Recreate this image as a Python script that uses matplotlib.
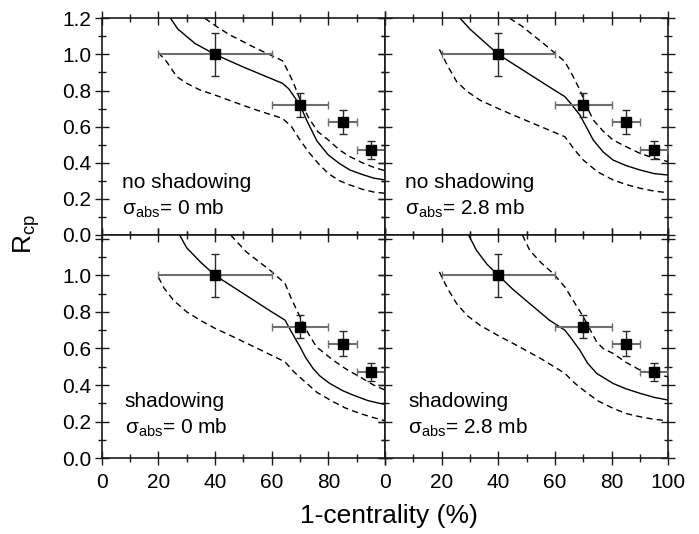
import matplotlib
matplotlib.use("Agg")
import matplotlib.pyplot as plt
from matplotlib.ticker import MultipleLocator, FixedLocator, FixedFormatter

plt.rcParams['font.family'] = ['Liberation Sans', 'DejaVu Sans']
plt.rcParams['mathtext.fontset'] = 'custom'
plt.rcParams['mathtext.rm'] = 'Liberation Sans'
plt.rcParams['mathtext.it'] = 'Liberation Sans:italic'
plt.rcParams['mathtext.bf'] = 'Liberation Sans:bold'

# ---------------- data ----------------
data_x = [40, 70, 85, 95]
data_y = [1.0, 0.72, 0.625, 0.47]
data_xerr = [20, 10, 5, 5]
data_yerr = [0.117, 0.065, 0.068, 0.05]

# panel 1: no shadowing, sigma_abs = 0 mb
p1_solid_x = [24.3, 26.9, 33, 40, 50, 63.8, 66, 68, 70, 72.3, 76, 80, 84, 87.6, 92, 96, 100]
p1_solid_y = [1.2, 1.14, 1.06, 1.0, 0.93, 0.84, 0.81, 0.765, 0.72, 0.637, 0.52, 0.443, 0.395, 0.36, 0.335, 0.315, 0.305]
p1_up_x = [36.4, 40, 45, 50, 55, 60.5, 63.8, 66, 68, 70, 73, 76.3, 80, 84, 87.6, 92, 96, 100]
p1_up_y = [1.2, 1.16, 1.11, 1.07, 1.03, 0.99, 0.965, 0.9, 0.83, 0.75, 0.65, 0.572, 0.526, 0.47, 0.434, 0.4, 0.375, 0.356]
p1_lo_x = [20, 22.9, 26.5, 30, 34.7, 40, 46.4, 55, 63.8, 67, 70, 73, 76.4, 80, 84, 87.6, 92, 96, 100]
p1_lo_y = [1.01, 0.96, 0.877, 0.84, 0.803, 0.775, 0.738, 0.69, 0.646, 0.6, 0.526, 0.46, 0.397, 0.34, 0.3, 0.277, 0.253, 0.238, 0.231]

# panel 2: no shadowing, sigma_abs = 2.8 mb
p2_solid_x = [26.5, 30, 35, 40, 50, 58, 63.5, 66, 68.8, 71, 73.5, 77, 80.5, 85, 90, 95, 100]
p2_solid_y = [1.2, 1.14, 1.07, 1.0, 0.9, 0.82, 0.766, 0.72, 0.664, 0.6, 0.526, 0.46, 0.415, 0.385, 0.36, 0.34, 0.332]
p2_up_x = [44, 48, 52, 56, 59.4, 63.5, 66, 68.8, 71, 73.5, 77, 80.5, 85, 90, 95, 100]
p2_up_y = [1.2, 1.16, 1.11, 1.06, 1.015, 0.96, 0.89, 0.803, 0.72, 0.637, 0.575, 0.526, 0.49, 0.452, 0.425, 0.406]
p2_lo_x = [19.2, 22, 25.3, 29, 33.5, 40, 45.3, 55, 63.5, 67, 70, 75, 80.5, 85, 90, 95, 100]
p2_lo_y = [1.028, 0.94, 0.849, 0.795, 0.747, 0.7, 0.664, 0.6, 0.544, 0.47, 0.415, 0.35, 0.305, 0.28, 0.259, 0.243, 0.234]

# panel 3: shadowing, sigma_abs = 0 mb
p3_solid_x = [27.5, 30, 35, 40, 50, 60, 64.7, 67, 70, 72, 74.6, 77, 80.5, 85, 88.8, 94, 98.2, 100]
p3_solid_y = [1.22, 1.15, 1.07, 1.0, 0.9, 0.8, 0.755, 0.69, 0.609, 0.55, 0.491, 0.45, 0.409, 0.37, 0.345, 0.315, 0.30, 0.295]
p3_up_x = [45.5, 51.1, 55, 60, 64.7, 67, 70, 73, 75.8, 81.7, 86, 91.1, 96, 100]
p3_up_y = [1.22, 1.127, 1.08, 1.02, 0.955, 0.87, 0.773, 0.68, 0.609, 0.536, 0.49, 0.445, 0.4, 0.373]
p3_lo_x = [20, 22, 25.3, 30, 34.7, 40, 46.4, 55, 64.7, 68, 71.1, 76, 81.7, 86, 91.1, 96, 100]
p3_lo_y = [0.99, 0.93, 0.864, 0.8, 0.755, 0.71, 0.664, 0.6, 0.527, 0.47, 0.427, 0.36, 0.309, 0.275, 0.245, 0.222, 0.205]

# panel 4: shadowing, sigma_abs = 2.8 mb
p4_solid_x = [29.5, 32.3, 36, 40, 45, 51.1, 58, 63.5, 66, 68.8, 71.5, 74.7, 80.5, 85, 90, 95, 100]
p4_solid_y = [1.22, 1.136, 1.06, 1.0, 0.925, 0.845, 0.755, 0.7, 0.65, 0.59, 0.52, 0.464, 0.409, 0.38, 0.355, 0.333, 0.318]
p4_up_x = [48.5, 51.1, 55, 59.4, 63.5, 66.5, 70, 72.5, 74.7, 77, 80.5, 85, 90, 95, 100]
p4_up_y = [1.22, 1.136, 1.07, 1.009, 0.936, 0.86, 0.773, 0.7, 0.636, 0.6, 0.573, 0.525, 0.482, 0.46, 0.445]
p4_lo_x = [19.2, 22, 25.3, 29, 33.5, 40, 45.3, 55, 63.5, 67, 70, 75, 80.5, 85, 90, 95, 100]
p4_lo_y = [1.018, 0.93, 0.845, 0.78, 0.727, 0.67, 0.627, 0.545, 0.464, 0.41, 0.373, 0.315, 0.273, 0.245, 0.227, 0.213, 0.205]

labels_line1 = ["no shadowing", "no shadowing", "shadowing", "shadowing"]
labels_line2 = ["σ$_{\\mathrm{abs}}$= 0 mb", "σ$_{\\mathrm{abs}}$= 2.8 mb",
                "σ$_{\\mathrm{abs}}$= 0 mb", "σ$_{\\mathrm{abs}}$= 2.8 mb"]

x_ticks_left = [0, 20, 40, 60, 80]
x_ticks_right = [0, 20, 40, 60, 80, 100]
y_ticks_top = [0.0, 0.2, 0.4, 0.6, 0.8, 1.0, 1.2]
y_ticks_bottom = [0.0, 0.2, 0.4, 0.6, 0.8, 1.0]

# ---------------- figure ----------------
W, H = 699, 534
fig = plt.figure(figsize=(W / 100, H / 100), dpi=100)

left = 101.7 / W
pw = 283.3 / W
top_b = (H - 235) / H
top_h = (235 - 18.3) / H
bot_b = (H - 458.3) / H
bot_h = (458.3 - 235) / H

ax1 = fig.add_axes([left, top_b, pw, top_h])
ax2 = fig.add_axes([left + pw, top_b, pw, top_h])
ax3 = fig.add_axes([left, bot_b, pw, bot_h])
ax4 = fig.add_axes([left + pw, bot_b, pw, bot_h])
axes = [ax1, ax2, ax3, ax4]

curves = [
    (p1_solid_x, p1_solid_y, p1_up_x, p1_up_y, p1_lo_x, p1_lo_y),
    (p2_solid_x, p2_solid_y, p2_up_x, p2_up_y, p2_lo_x, p2_lo_y),
    (p3_solid_x, p3_solid_y, p3_up_x, p3_up_y, p3_lo_x, p3_lo_y),
    (p4_solid_x, p4_solid_y, p4_up_x, p4_up_y, p4_lo_x, p4_lo_y),
]

text_y = [(0.258, 0.11), (0.258, 0.11), (0.283, 0.135), (0.283, 0.135)]
text_x = [7.0, 7.0, 8.2, 8.2]

spine_col = '#1a1a1a'
for i, ax in enumerate(axes):
    sx, sy, ux, uy, lx, ly = curves[i]
    ax.plot(sx, sy, color='black', lw=1.0)
    ax.plot(ux, uy, color='black', lw=1.0, dashes=(4.5, 3))
    ax.plot(lx, ly, color='black', lw=1.0, dashes=(4.5, 3))
    ax.errorbar(data_x, data_y, xerr=data_xerr, fmt='none', ecolor='#6e6e6e',
                elinewidth=1.5, capsize=3, capthick=1.0, zorder=3)
    ax.errorbar(data_x, data_y, yerr=data_yerr, fmt='none', ecolor='#2a2a2a',
                elinewidth=1.0, capsize=3, capthick=1.0, zorder=3)
    ax.plot(data_x, data_y, 's', color='black', ms=7, zorder=4)

    ax.set_xlim(0, 100)
    if i < 2:
        ax.set_ylim(0, 1.2)
    else:
        ax.set_ylim(0, 1.22)
    ax.xaxis.set_major_locator(MultipleLocator(20))
    ax.xaxis.set_minor_locator(MultipleLocator(10))
    ax.yaxis.set_major_locator(MultipleLocator(0.2))
    ax.yaxis.set_minor_locator(MultipleLocator(0.1))
    ax.tick_params(which='both', direction='inout', top=True, right=True,
                   color=spine_col, width=1.0, labelsize=15)
    ax.tick_params(which='major', length=10)
    ax.tick_params(which='minor', length=6)
    ax.tick_params(axis='x', pad=5.5)
    ax.tick_params(axis='y', pad=2.5)
    for s in ax.spines.values():
        s.set_linewidth(1.2)
        s.set_color(spine_col)

    ax.text(text_x[i], text_y[i][0], labels_line1[i], fontsize=15, va='baseline', ha='left')
    ax.text(text_x[i], text_y[i][1], labels_line2[i], fontsize=15, va='baseline', ha='left')

# tick labels
ax1.yaxis.set_major_locator(FixedLocator(y_ticks_top))
ax1.yaxis.set_major_formatter(FixedFormatter([f"{v:.1f}" for v in y_ticks_top]))
ax1.tick_params(labelbottom=False)
ax2.tick_params(labelbottom=False, labelleft=False)
ax3.yaxis.set_major_locator(FixedLocator(y_ticks_bottom + [1.2]))
ax3.yaxis.set_major_formatter(FixedFormatter([f"{v:.1f}" for v in y_ticks_bottom] + [""]))
ax3.xaxis.set_major_locator(FixedLocator(x_ticks_left + [100]))
ax3.xaxis.set_major_formatter(FixedFormatter([str(v) for v in x_ticks_left] + [""]))
ax4.tick_params(labelleft=False)
ax4.xaxis.set_major_locator(FixedLocator(x_ticks_right))
ax4.xaxis.set_major_formatter(FixedFormatter([str(v) for v in x_ticks_right]))

fig.text(389 / W, 1 - 523 / H, "1-centrality (%)", fontsize=19, ha='center', va='baseline')
fig.text(27 / W, 1 - 234 / H, "R$_{\\mathrm{cp}}$", fontsize=19, rotation=90,
         ha='center', va='center')

fig.savefig("out.png", dpi=100)
